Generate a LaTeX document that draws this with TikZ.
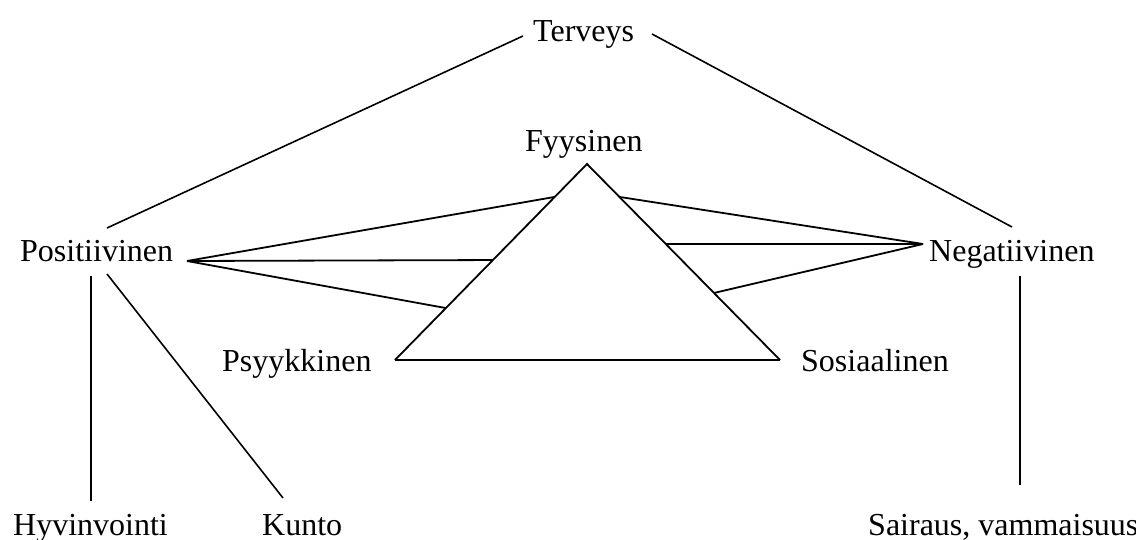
\documentclass[tikz,border=0pt]{standalone}
\usepackage{fontspec}
\setmainfont{Liberation Serif}
\usetikzlibrary{calc}
\begin{document}
\begin{tikzpicture}[x=1pt,y=-1pt,
  lbl/.style={inner sep=0pt,anchor=base west,font=\rmfamily\fontsize{32}{38}\selectfont},
  conn/.style={line width=1.8pt},
  thin/.style={line width=1.6pt}]
\useasboundingbox (0,0) rectangle (1136,540);
% labels
\node[lbl] (terv) at (533,42) {Terveys};
\node[lbl] (fyys) at (525,152) {Fyysinen};
\node[lbl] (pos) at (20,262) {Positiivinen};
\node[lbl] (neg) at (929,262) {Negatiivinen};
\node[lbl] (psyk) at (222,371) {Psyykkinen};
\node[lbl] (sos) at (801,371) {Sosiaalinen};
\node[lbl] (hyv) at (13,535) {Hyvinvointi};
\node[lbl] (kunto) at (262,535) {Kunto};
\node[lbl] (sair) at (868,535) {Sairaus, vammaisuus};
% triangle corners
\coordinate (A) at (587,164);
\coordinate (B) at (395,360);
\coordinate (C) at (780,360);
% connector ends
\coordinate (tL) at (523,36);
\coordinate (tR) at (652,34);
\coordinate (pT) at (107,228);
\coordinate (nT) at (1012,227);
\coordinate (pR) at (187,261);
\coordinate (nL) at (923,244);
\coordinate (pD1) at (91,276);
\coordinate (pD2) at (107,274);
\coordinate (hyvT) at (91,501);
\coordinate (kunT) at (283,498);
\coordinate (nD) at (1020,276);
\coordinate (sairT) at (1020,485);
% Terveys branches
\draw[thin] (tL) -- (pT);
\draw[thin] (tR) -- (nT);
% triangle
\draw[conn,line join=miter] (B) -- (A) -- (C);
\draw[line width=2.4pt] (B) -- (C);
% Positiivinen to triangle
\draw[conn] (pR) -- ($(A)!0.168!(B)$);
\draw[conn] (pR) -- ($(A)!0.49!(B)$);
\draw[conn] (pR) -- ($(A)!0.735!(B)$);
% Negatiivinen to triangle
\draw[conn] (nL) -- ($(A)!0.168!(C)$);
\draw[conn] (nL) -- ($(A)!0.408!(C)$);
\draw[conn] (nL) -- ($(A)!0.658!(C)$);
% lower branches
\draw[thin] (pD1) -- (hyvT);
\draw[thin] (pD2) -- (kunT);
\draw[thin] (nD) -- (sairT);
\end{tikzpicture}
\end{document}
